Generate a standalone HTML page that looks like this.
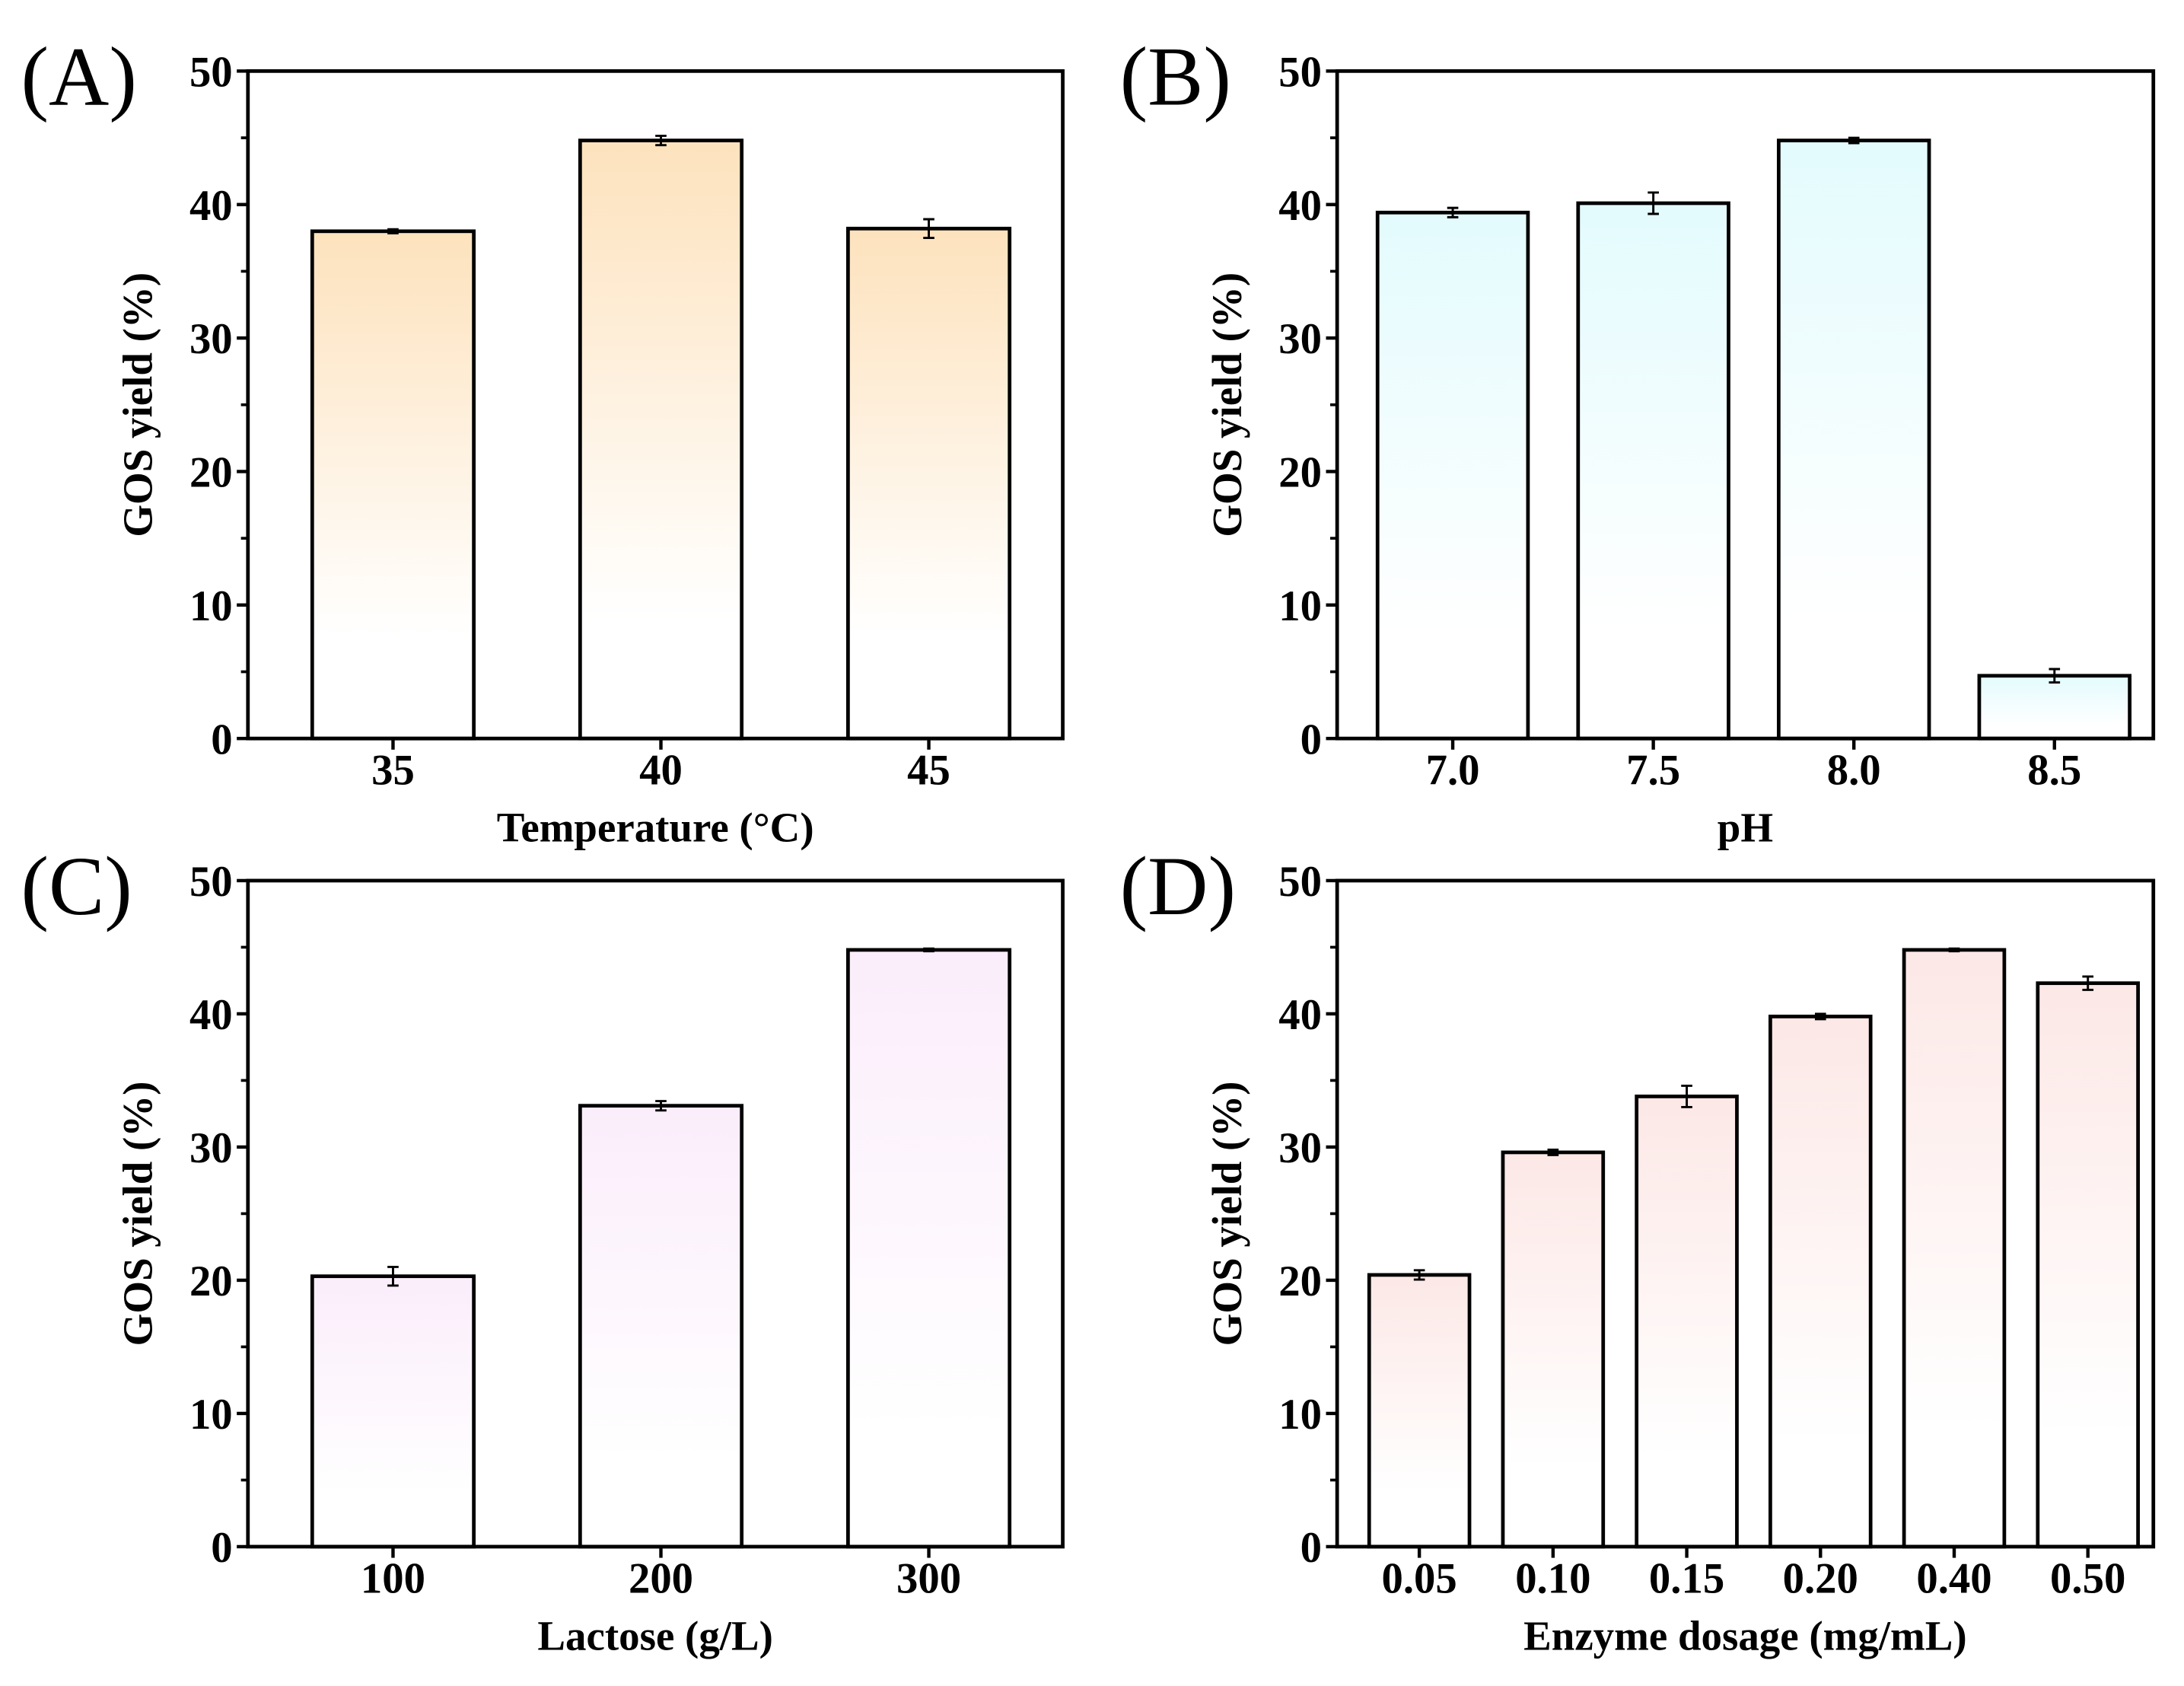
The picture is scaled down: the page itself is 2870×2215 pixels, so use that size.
<!DOCTYPE html>
<html><head><meta charset="utf-8"><style>
html,body{margin:0;padding:0;background:#fff}
svg{display:block}
text{font-family:"Liberation Serif",serif;fill:#000}
</style></head><body>
<svg id="fig" width="2870" height="2215" viewBox="0 0 1568 1210" preserveAspectRatio="none" xmlns="http://www.w3.org/2000/svg">
<defs>
<linearGradient id="gA" x1="0" y1="0" x2="0" y2="1"><stop offset="0" stop-color="#fde2bd"/><stop offset="0.8" stop-color="#ffffff"/></linearGradient>
<linearGradient id="gB" x1="0" y1="0" x2="0" y2="1"><stop offset="0" stop-color="#e3fbfd"/><stop offset="0.8" stop-color="#ffffff"/></linearGradient>
<linearGradient id="gC" x1="0" y1="0" x2="0" y2="1"><stop offset="0" stop-color="#fbedfb"/><stop offset="0.8" stop-color="#ffffff"/></linearGradient>
<linearGradient id="gD" x1="0" y1="0" x2="0" y2="1"><stop offset="0" stop-color="#fce8e6"/><stop offset="0.8" stop-color="#ffffff"/></linearGradient>
</defs>
</svg>
<script>
const catsA = ["35","40","45"];
const valsA = [38.0, 44.8, 38.2];
const errsA = [0.15, 0.35, 0.7];
const catsB = ["7.0","7.5","8.0","8.5"];
const valsB = [39.4, 40.1, 44.8, 4.7];
const errsB = [0.35, 0.8, 0.2, 0.5];
const catsC = ["100","200","300"];
const valsC = [20.3, 33.1, 44.8];
const errsC = [0.7, 0.35, 0.1];
const catsD = ["0.05","0.10","0.15","0.20","0.40","0.50"];
const valsD = [20.4, 29.6, 33.8, 39.8, 44.8, 42.3];
const errsD = [0.35, 0.2, 0.8, 0.2, 0.1, 0.5];
const yTicks = [0,10,20,30,40,50];

const NS = "http://www.w3.org/2000/svg";
const svg = document.getElementById('fig');
function mk(tag, attrs, parent){const e=document.createElementNS(NS,tag);for(const k in attrs)e.setAttribute(k,attrs[k]);(parent||svg).appendChild(e);return e;}

function panel(p){
  const g = mk('g',{});
  
  
  const L=p.l,R=p.r,T=p.t,B=p.b;
  const y = v => B - (v/50)*(B-T);
  const step = (R-L-p.padL-p.padR)/p.cats.length;
  const xc = i => L + p.padL + step*(i+0.5);
  p.vals.forEach((v,i)=>{
    const r = mk('rect',{x:xc(i)-p.bw/2,y:y(v),width:p.bw,height:B-y(v),fill:'url(#'+p.grad+')',stroke:'#000','stroke-width':2.6},g);
    
    
    const e = p.errs[i];
    const eb = mk('path',{d:`M${xc(i)},${y(v+e)}V${y(v-e)}M${xc(i)-4},${y(v+e)}H${xc(i)+4}M${xc(i)-4},${y(v-e)}H${xc(i)+4}`,stroke:'#000','stroke-width':1.6,fill:'none'},g);
    
    
    mk('line',{x1:xc(i),x2:xc(i),y1:B,y2:B+8,stroke:'#000','stroke-width':2.4},g);
    const t = mk('text',{x:xc(i),y:B+33,'text-anchor':'middle','font-size':31,'font-weight':'bold'},g);
    t.textContent = p.cats[i];
    
    
  });
  const fr = mk('rect',{x:L,y:T,width:R-L,height:B-T,fill:'none',stroke:'#000','stroke-width':2.6},g);
  
  
  yTicks.forEach(v=>{
    mk('line',{x1:L-8,x2:L,y1:y(v),y2:y(v),stroke:'#000','stroke-width':2.4},g);
    if(v<50) mk('line',{x1:L-5,x2:L,y1:y(v+5),y2:y(v+5),stroke:'#000','stroke-width':2},g);
    const t = mk('text',{x:L-11,y:y(v)+11,'text-anchor':'end','font-size':31,'font-weight':'bold'},g);
    t.textContent = v;
    
    
  });
  const yt = mk('text',{x:0,y:0,'text-anchor':'middle','font-size':30,'font-weight':'bold',transform:`translate(${L-69},${(T+B)/2}) rotate(-90)`},g);
  yt.textContent = 'GOS yield (%)';
  
  
  const xt = mk('text',{x:(L+R)/2,y:B+74,'text-anchor':'middle','font-size':30,'font-weight':'bold'},g);
  xt.textContent = p.xtitle;
  
  
  const pl = mk('text',{x:p.lx,y:T+24,'font-size':60},g);
  pl.textContent = '(' + p.id + ')';
  
  
}

panel({id:'A',l:178,r:763,t:51,b:530,padL:8,padR:0,bw:116,cats:catsA,vals:valsA,errs:errsA,grad:'gA',xtitle:'Temperature (°C)',lx:15});
panel({id:'B',l:960,r:1546,t:51,b:530,padL:11,padR:-1,bw:108,cats:catsB,vals:valsB,errs:errsB,grad:'gB',xtitle:'pH',lx:804});
panel({id:'C',l:178,r:763,t:632,b:1110,padL:8,padR:0,bw:116,cats:catsC,vals:valsC,errs:errsC,grad:'gC',xtitle:'Lactose (g/L)',lx:15});
panel({id:'D',l:960,r:1546,t:632,b:1110,padL:11,padR:-1,bw:72,cats:catsD,vals:valsD,errs:errsD,grad:'gD',xtitle:'Enzyme dosage (mg/mL)',lx:804});
</script>
</body></html>
